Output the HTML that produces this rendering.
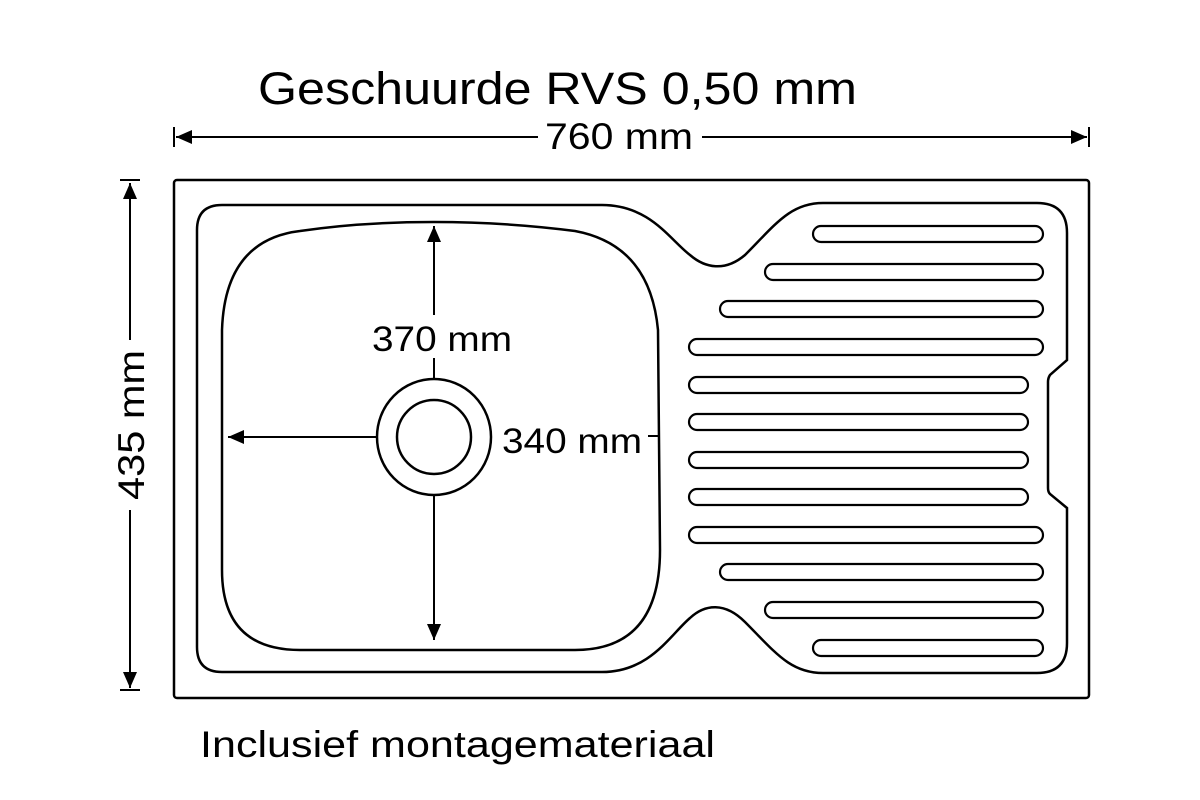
<!DOCTYPE html>
<html><head><meta charset="utf-8"><style>body{margin:0;background:#fff}svg{display:block}</style></head><body>
<svg width="1200" height="800" viewBox="0 0 1200 800" xmlns="http://www.w3.org/2000/svg" font-family="Liberation Sans, Arial, sans-serif">
<defs>
<marker id="b" viewBox="0 0 10 10" refX="10" refY="5" markerWidth="16" markerHeight="14" markerUnits="userSpaceOnUse" orient="auto" preserveAspectRatio="none"><path d="M0,0 L10,5 L0,10z" fill="#000"/></marker></defs>
<g fill="none" stroke="#000" stroke-width="2.5">
<rect x="174" y="180" width="915" height="518" rx="3"/>
<path d="M222,205 L602,205 C650,205 670,240 690,255 C705,268 725,272 745,255 C775,225 790,203 823,203 L1037,203 Q1067,203 1067,233 L1067,360 L1050,375 Q1048,378 1048,382 L1048,488 Q1048,492 1050,494 L1067,508 L1067,643 Q1067,673 1037,673 L823,673 C790,673 775,652 745,622 C725,602 705,604 690,618 C670,635 650,672 602,672 L222,672 Q197,672 197,647 L197,230 Q197,205 222,205Z"/>
<path d="M300,231 Q360,222 434,222 Q505,222 575,231 Q650,245 658,330 L660,550 Q660,650 575,650 L300,650 Q222,650 222,570 L222,330 Q225,240 300,231Z"/>
<ellipse cx="434" cy="437" rx="57" ry="58"/>
<circle cx="434" cy="437" r="37"/>
<g stroke-width="2.2">
<rect x="813" y="226" width="230" height="16" rx="8"/>
<rect x="765" y="264" width="278" height="16" rx="8"/>
<rect x="720" y="301" width="323" height="16" rx="8"/>
<rect x="689" y="339" width="354" height="16" rx="8"/>
<rect x="689" y="377" width="339" height="16" rx="8"/>
<rect x="689" y="414" width="339" height="16" rx="8"/>
<rect x="689" y="452" width="339" height="16" rx="8"/>
<rect x="689" y="489" width="339" height="16" rx="8"/>
<rect x="689" y="527" width="354" height="16" rx="8"/>
<rect x="720" y="564" width="323" height="16" rx="8"/>
<rect x="765" y="602" width="278" height="16" rx="8"/>
<rect x="813" y="640" width="230" height="16" rx="8"/>
</g>
</g>
<g stroke="#000" stroke-width="2" fill="none">
<line x1="434" y1="315" x2="434" y2="226" marker-end="url(#b)"/>
<line x1="434" y1="358" x2="434" y2="380"/>
<line x1="434" y1="495" x2="434" y2="640" marker-end="url(#b)"/>
<line x1="377" y1="437" x2="228" y2="437" marker-end="url(#b)"/>
<line x1="648" y1="436" x2="660" y2="436"/>
<line x1="538" y1="137" x2="176" y2="137" marker-end="url(#b)"/>
<line x1="702" y1="137" x2="1087" y2="137" marker-end="url(#b)"/>
<line x1="174" y1="127" x2="174" y2="147"/>
<line x1="1089" y1="127" x2="1089" y2="147"/>
<line x1="130" y1="340" x2="130" y2="183" marker-end="url(#b)"/>
<line x1="130" y1="510" x2="130" y2="688" marker-end="url(#b)"/>
<line x1="120" y1="180" x2="140" y2="180"/>
<line x1="120" y1="690" x2="140" y2="690"/>
</g>
<g fill="#000">
<text x="258" y="104" font-size="45" textLength="599" lengthAdjust="spacingAndGlyphs">Geschuurde RVS 0,50 mm</text>
<text x="545" y="149" font-size="37" textLength="148" lengthAdjust="spacingAndGlyphs">760 mm</text>
<text x="372" y="351" font-size="35" textLength="140" lengthAdjust="spacingAndGlyphs">370 mm</text>
<text x="502" y="453" font-size="35" textLength="140" lengthAdjust="spacingAndGlyphs">340 mm</text>
<text x="200" y="757" font-size="37" textLength="515" lengthAdjust="spacingAndGlyphs">Inclusief montagemateriaal</text>
<text transform="translate(144,425) rotate(-90)" font-size="37" text-anchor="middle" textLength="150" lengthAdjust="spacingAndGlyphs">435 mm</text>
</g>
</svg>
</body></html>
